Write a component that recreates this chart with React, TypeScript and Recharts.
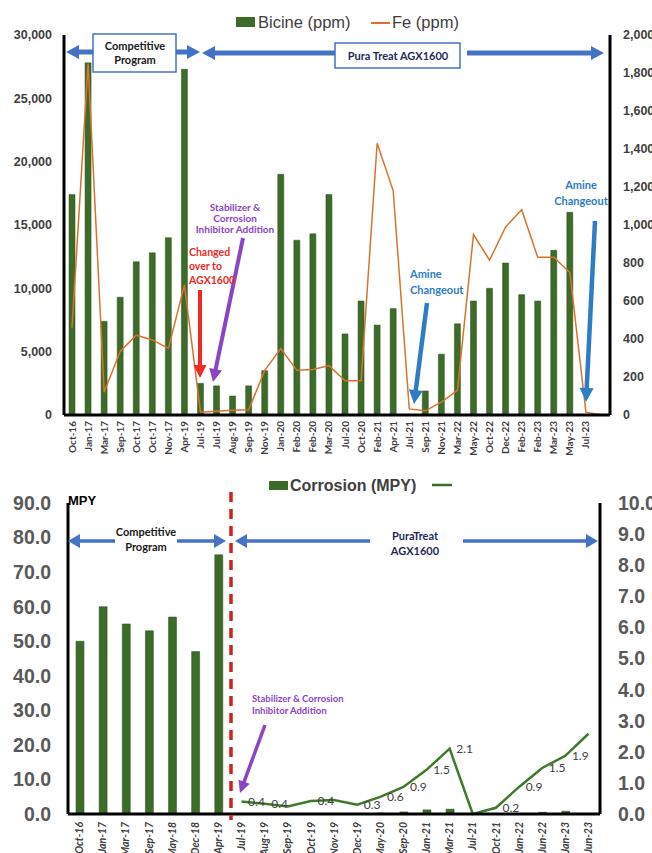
import React from 'react';
import { ComposedChart, Bar, Line, XAxis, YAxis, LabelList } from 'recharts';

// Top chart: Bicine and Fe
const topMonths = [
	'Oct-16', 'Jan-17', 'Mar-17', 'Sep-17', 'Oct-17', 'Oct-17', 'Nov-17', 'Apr-19', 'Jul-19', 'Jul-19',
	'Aug-19', 'Sep-19', 'Nov-19', 'Jan-20', 'Feb-20', 'Feb-20', 'Mar-20', 'Jul-20', 'Oct-20', 'Feb-21',
	'Apr-21', 'Jul-21', 'Sep-21', 'Nov-21', 'Mar-22', 'May-22', 'Oct-22', 'Dec-22', 'Feb-23', 'Feb-23',
	'Mar-23', 'May-23', 'Jul-23', '',
];
const bicine = [
	17400, 27800, 7400, 9300, 12100, 12800, 14000, 27300, 2500, 2300,
	1500, 2300, 3500, 19000, 13800, 14300, 17400, 6400, 9000, 7100,
	8400, 0, 1900, 4800, 7200, 9000, 10000, 12000, 9500, 9000,
	13000, 16000, 0, 0,
];
const fe = [
	460, 1850, 120, 335, 420, 395, 350, 685, 15, 20,
	25, 28, 235, 350, 235, 240, 260, 180, 180, 1430,
	1180, 32, 22, 68, 130, 950, 815, 990, 1080, 830,
	830, 750, 15, 0,
];
const bicineTicks = [0, 5000, 10000, 15000, 20000, 25000, 30000];
const feTicks = [0, 200, 400, 600, 800, 1000, 1200, 1400, 1600, 1800, 2000];

// Bottom chart: corrosion
const mpyMonths = [
	'Oct-16', 'Jan-17', 'Mar-17', 'Sep-17', 'May-18', 'Dec-18', 'Apr-19', 'Jul-19', 'Aug-19', 'Sep-19',
	'Oct-19', 'Nov-19', 'Dec-19', 'May-20', 'Sep-20', 'Jan-21', 'Mar-21', 'Jul-21', 'Oct-21', 'Jan-22',
	'Jun-22', 'Jan-23', 'Jun-23',
];
const mpyBars = [50, 60, 55, 53, 57, 47, 75, 0, 0, 0, 0, 0, 0, 0.3, 0.6, 1.2, 1.4, 0, 0, 0, 0.5, 0.8, 0];
const mpyLine = [
	null, null, null, null, null, null, null, 0.4, 0.33, 0.24,
	0.42, 0.45, 0.3, 0.55, 0.87, 1.42, 2.1, 0, 0.2, 0.87,
	1.48, 1.87, 2.58,
];
const mpyLabels = [
	'', '', '', '', '', '', '', '0.4', '0.4', '',
	'0.4', '', '0.3', '0.6', '0.9', '1.5', '2.1', '', '0.2', '0.9',
	'1.5', '1.9', '',
];
const mpyLeftTicks = [0, 10, 20, 30, 40, 50, 60, 70, 80, 90];
const mpyRightTicks = [0, 1, 2, 3, 4, 5, 6, 7, 8, 9, 10];

const topData = topMonths.map((m, i) => ({ month: m, bicine: bicine[i], fe: fe[i] }));
const mpyData = mpyMonths.map((m, i) => ({ month: m, bar: mpyBars[i], mpy: mpyLine[i] }));

const GREEN = '#3D6B2A';
const ORANGE = '#D9732B';
const BLUE = '#4472C4';
const NAVY = '#1F2A5A';
const PURPLE = '#8A45C4';
const RED = '#EE2A24';
const AMINE = '#2E7CC4';
const GREY = '#404040';
const SANS = '"Liberation Sans", Arial, sans-serif';
const NOTE = 'Lato, "Open Sans", sans-serif';

const Arrow = ({ x1, y1, x2, y2, color, w = 4, head = 12, half = 7 }: any) => {
	const dx = x2 - x1;
	const dy = y2 - y1;
	const len = Math.hypot(dx, dy);
	const ux = dx / len;
	const uy = dy / len;
	const bx = x2 - ux * head;
	const by = y2 - uy * head;
	const px = -uy;
	const py = ux;
	return (
		<g>
			<line x1={x1} y1={y1} x2={bx + ux} y2={by + uy} stroke={color} strokeWidth={w} />
			<polygon
				points={`${x2},${y2} ${bx + px * half},${by + py * half} ${bx - px * half},${by - py * half}`}
				fill={color}
			/>
		</g>
	);
};

const TopXTick = ({ x, y, payload }: any) => (
	<text
		x={x}
		y={y}
		transform={`rotate(-90, ${x}, ${y})`}
		textAnchor="end"
		dy="0.35em"
		fontSize={10}
		fontWeight={700}
		fontFamily={NOTE}
		fill={GREY}
	>
		{payload.value}
	</text>
);

const BottomXTick = ({ x, y, payload }: any) => (
	<text
		x={x}
		y={y}
		transform={`rotate(-90, ${x}, ${y})`}
		textAnchor="end"
		dy="0.35em"
		fontSize={10.5}
		fontWeight={700}
		fontStyle="italic"
		fontFamily={NOTE}
		fill={GREY}
	>
		{payload.value}
	</text>
);

const renderMpyLabel = (props: any) => {
	const { x, y, index } = props;
	const txt = mpyLabels[index];
	if (!txt || x == null || y == null) return null;
	return (
		<text x={x + 15} y={y + 4} textAnchor="middle" fontSize={12} fontFamily={NOTE} fill={GREY}>
			{txt}
		</text>
	);
};

const TopNotes = () => (
	<svg width={652} height={460} style={{ position: 'absolute', left: 0, top: 0, pointerEvents: 'none' }}>
		{/* legend */}
		<rect x={236} y={17} width={19} height={10} fill={GREEN} />
		<text x={258} y={28} fontSize={16.5} fontFamily={SANS} fill={GREY}>Bicine (ppm)</text>
		<line x1={371} y1={23} x2={390} y2={23} stroke={ORANGE} strokeWidth={2} />
		<text x={392} y={28} fontSize={16.5} fontFamily={SANS} fill={GREY}>Fe (ppm)</text>

		{/* program arrows */}
		<Arrow x1={93} y1={52} x2={66} y2={52} color={BLUE} w={5} head={13} half={7} />
		<Arrow x1={176} y1={52} x2={200} y2={52} color={BLUE} w={5} head={13} half={7} />
		<rect x={93} y={34} width={83} height={38} fill="#fff" stroke={BLUE} strokeWidth={1.5} />
		<text x={135} y={50} textAnchor="middle" fontSize={11} fontWeight={700} fontFamily={NOTE} fill="#1a1a1a">Competitive</text>
		<text x={135} y={64} textAnchor="middle" fontSize={11} fontWeight={700} fontFamily={NOTE} fill="#1a1a1a">Program</text>

		<Arrow x1={336} y1={53} x2={202} y2={53} color={BLUE} w={5} head={13} half={7} />
		<Arrow x1={467} y1={53} x2={604} y2={53} color={BLUE} w={5} head={13} half={7} />
		<rect x={335} y={43} width={125} height={25} fill="#fff" stroke={BLUE} strokeWidth={1.5} />
		<text x={398} y={60} textAnchor="middle" fontSize={11} fontWeight={700} fontFamily={NOTE} fill={NAVY}>Pura Treat AGX1600</text>

		{/* stabilizer */}
		<text x={235} y={211} textAnchor="middle" fontSize={10} fontWeight={700} fontFamily={NOTE} fill={PURPLE}>Stabilizer &amp;</text>
		<text x={235} y={222} textAnchor="middle" fontSize={10} fontWeight={700} fontFamily={NOTE} fill={PURPLE}>Corrosion</text>
		<text x={235} y={233} textAnchor="middle" fontSize={10} fontWeight={700} fontFamily={NOTE} fill={PURPLE}>Inhibitor Addition</text>
		<Arrow x1={243} y1={238} x2={213} y2={382} color={PURPLE} w={4} head={13} half={6.5} />

		{/* changed over */}
		<text x={189} y={256} fontSize={10.5} fontWeight={700} fontFamily={NOTE} fill={RED}>Changed</text>
		<text x={189} y={270} fontSize={10.5} fontWeight={700} fontFamily={NOTE} fill={RED}>over to</text>
		<text x={189} y={284} fontSize={10.5} fontWeight={700} fontFamily={NOTE} fill={RED}>AGX1600</text>
		<Arrow x1={200} y1={290} x2={200} y2={378} color={RED} w={4} head={13} half={6.5} />

		{/* amine changeouts */}
		<text x={410} y={278} fontSize={11} fontWeight={700} fontFamily={NOTE} fill={AMINE}>Amine</text>
		<text x={410} y={294} fontSize={11} fontWeight={700} fontFamily={NOTE} fill={AMINE}>Changeout</text>
		<Arrow x1={427} y1={303} x2={414} y2={404} color={AMINE} w={4.5} head={14} half={7} />

		<text x={581} y={189} textAnchor="middle" fontSize={11} fontWeight={700} fontFamily={NOTE} fill={AMINE}>Amine</text>
		<text x={581} y={205} textAnchor="middle" fontSize={11} fontWeight={700} fontFamily={NOTE} fill={AMINE}>Changeout</text>
		<Arrow x1={595} y1={221} x2={586} y2={402} color={AMINE} w={4.5} head={14} half={7} />
	</svg>
);

const BottomNotes = () => (
	<svg width={652} height={393} style={{ position: 'absolute', left: 0, top: 0, pointerEvents: 'none' }}>
		{/* legend */}
		<rect x={269} y={21} width={19} height={9} fill={GREEN} />
		<text x={290} y={31} fontSize={16} fontWeight={700} fontFamily={SANS} fill={GREY}>Corrosion (MPY)</text>
		<line x1={432} y1={25} x2={452} y2={25} stroke={GREEN} strokeWidth={2.5} />

		<text x={68} y={45} fontSize={13} fontWeight={700} fontFamily={SANS} fill="#000">MPY</text>

		{/* split line */}
		<line x1={231} y1={32} x2={231} y2={360} stroke="#D42020" strokeWidth={3.5} strokeDasharray="10 7" />

		{/* program arrows */}
		<Arrow x1={115} y1={81} x2={68} y2={81} color={BLUE} w={3.5} head={12} half={7} />
		<Arrow x1={177} y1={81} x2={226} y2={81} color={BLUE} w={3.5} head={12} half={7} />
		<text x={146} y={76} textAnchor="middle" fontSize={11} fontWeight={700} fontFamily={NOTE} fill="#1a1a1a">Competitive</text>
		<text x={146} y={91} textAnchor="middle" fontSize={11} fontWeight={700} fontFamily={NOTE} fill="#1a1a1a">Program</text>

		<Arrow x1={370} y1={81} x2={235} y2={81} color={BLUE} w={3.5} head={12} half={7} />
		<Arrow x1={463} y1={81} x2={598} y2={81} color={BLUE} w={3.5} head={12} half={7} />
		<text x={415} y={80} textAnchor="middle" fontSize={11} fontWeight={700} fontFamily={NOTE} fill={NAVY}>PuraTreat</text>
		<text x={415} y={95} textAnchor="middle" fontSize={11} fontWeight={700} fontFamily={NOTE} fill={NAVY}>AGX1600</text>

		{/* stabilizer */}
		<text x={252} y={242} fontSize={9.5} fontWeight={700} fontFamily={NOTE} fill={PURPLE}>Stabilizer &amp; Corrosion</text>
		<text x={252} y={254} fontSize={9.5} fontWeight={700} fontFamily={NOTE} fill={PURPLE}>Inhibitor Addition</text>
		<Arrow x1={265} y1={265} x2={240} y2={333} color={PURPLE} w={3.5} head={12} half={6} />
	</svg>
);

export default function App() {
	return (
		<div style={{ position: 'absolute', left: 0, top: 0, width: 652, height: 853, overflow: 'hidden', background: '#fff' }}>
			<div style={{ position: 'relative', width: 652, height: 460 }}>
				<ComposedChart width={652} height={460} data={topData} margin={{ top: 35, right: 0, bottom: 0, left: 0 }}>
					<XAxis
						dataKey="month"
						interval={0}
						height={45}
						tick={<TopXTick />}
						tickLine={false}
						tickSize={6}
						tickMargin={0}
						axisLine={{ stroke: '#000', strokeWidth: 3 }}
					/>
					<YAxis
						yAxisId="left"
						domain={[0, 30000]}
						ticks={bicineTicks}
						width={64}
						tickLine={false}
						tickMargin={6}
						tickFormatter={(v: number) => v.toLocaleString('en-US')}
						axisLine={{ stroke: '#000', strokeWidth: 3 }}
						tick={{ fontSize: 12.5, fontWeight: 700, fill: GREY, fontFamily: SANS }}
					/>
					<YAxis
						yAxisId="right"
						orientation="right"
						domain={[0, 2000]}
						ticks={feTicks}
						width={42}
						tickLine={false}
						tickMargin={7}
						tickFormatter={(v: number) => v.toLocaleString('en-US')}
						axisLine={{ stroke: '#000', strokeWidth: 3 }}
						tick={{ fontSize: 12.5, fontWeight: 700, fill: GREY, fontFamily: SANS, textAnchor: 'start' }}
					/>
					<Bar yAxisId="left" dataKey="bicine" barSize={6} fill={GREEN} stroke="#2B4E1C" strokeWidth={0.5} isAnimationActive={false} />
					<Line yAxisId="right" dataKey="fe" type="linear" stroke={ORANGE} strokeWidth={1.5} dot={false} isAnimationActive={false} />
				</ComposedChart>
				<TopNotes />
			</div>
			<div style={{ position: 'relative', width: 652, height: 393 }}>
				<ComposedChart width={652} height={393} data={mpyData} margin={{ top: 43, right: 0, bottom: 0, left: 0 }}>
					<XAxis
						dataKey="month"
						interval={0}
						height={39}
						tick={<BottomXTick />}
						tickLine={false}
						tickSize={6}
						tickMargin={2}
						axisLine={{ stroke: '#000', strokeWidth: 3 }}
					/>
					<YAxis
						yAxisId="left"
						domain={[0, 90]}
						ticks={mpyLeftTicks}
						width={68}
						tickLine={false}
						tickMargin={11}
						tickFormatter={(v: number) => v.toFixed(1)}
						axisLine={{ stroke: '#000', strokeWidth: 3 }}
						tick={{ fontSize: 19.5, fontWeight: 700, fill: '#595959', fontFamily: SANS }}
					/>
					<YAxis
						yAxisId="right"
						orientation="right"
						domain={[0, 10]}
						ticks={mpyRightTicks}
						width={52}
						tickLine={false}
						tickMargin={12}
						tickFormatter={(v: number) => v.toFixed(1)}
						axisLine={{ stroke: '#000', strokeWidth: 3 }}
						tick={{ fontSize: 19.5, fontWeight: 700, fill: '#595959', fontFamily: SANS }}
					/>
					<Bar yAxisId="left" dataKey="bar" barSize={8} fill={GREEN} stroke="#2B4E1C" strokeWidth={0.5} isAnimationActive={false} />
					<Line yAxisId="right" dataKey="mpy" type="linear" stroke="#3E7A2A" strokeWidth={2.5} dot={false} isAnimationActive={false}>
						<LabelList dataKey="mpy" content={renderMpyLabel} />
					</Line>
				</ComposedChart>
				<BottomNotes />
			</div>
		</div>
	);
}
